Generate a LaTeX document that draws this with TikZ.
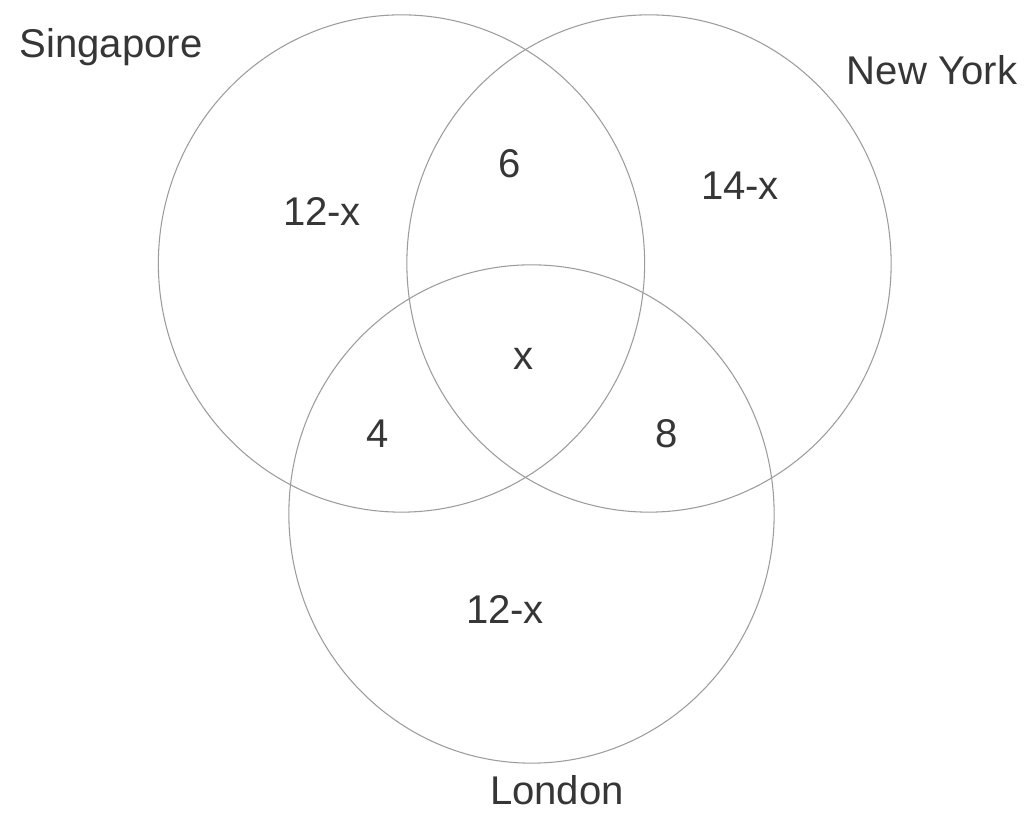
\documentclass[tikz,border=0pt]{standalone}
\usepackage{fontspec}
\setmainfont{Liberation Sans}
\usepackage{xcolor}
\usetikzlibrary{positioning}
\definecolor{ringgray}{HTML}{9C9C9C}
\definecolor{inkgray}{HTML}{363636}

\begin{document}
\begin{tikzpicture}[
  x=0.01cm, y=-0.01cm,
  every node/.style={font=\fontsize{11.4}{13}\selectfont, text=inkgray, inner sep=0pt},
  ring/.style={draw=ringgray, line width=0.3pt},
  lbl/.style={anchor=base}
]
\useasboundingbox[fill=white] (0,0) rectangle (1026,819);
% the three sets
\draw[ring] (401.5,263.5) ellipse [x radius=2.43cm, y radius=2.485cm];
\draw[ring] (649,263.5) ellipse [x radius=2.42cm, y radius=2.485cm];
\draw[ring] (531.5,514) ellipse [x radius=2.425cm, y radius=2.49cm];
% set names
\node[lbl] (sg) at (111,58) {Singapore};
\node[lbl] (ny) at (932,85) {New York};
\node[lbl] (ld) at (557,805) {London};
% region counts
\node[lbl] (sgonly) at (322,226) {12-x};
\node[lbl] (sgny) at (510,178) {6};
\node[lbl] (nyonly) at (740,200) {14-x};
\node[lbl] (all) at (524,370) {x};
\node[lbl] (sgld) at (378,448) {4};
\node[lbl] (nyld) at (667,448) {8};
\node[lbl] (ldonly) at (505,624) {12-x};
\end{tikzpicture}
\end{document}
